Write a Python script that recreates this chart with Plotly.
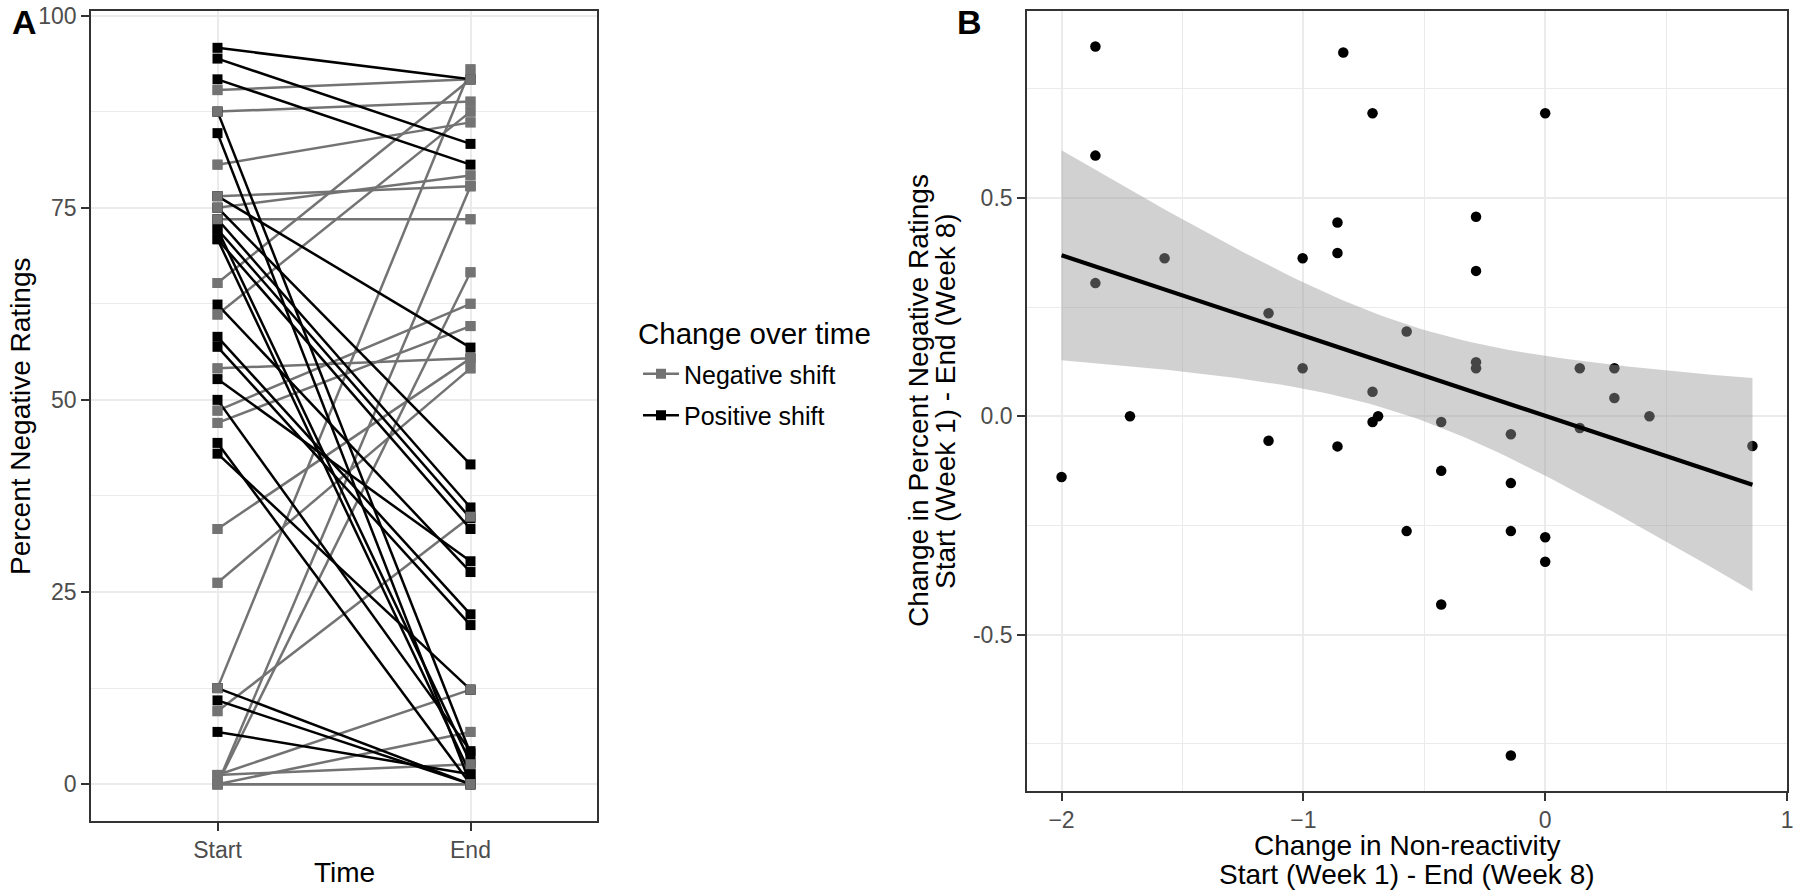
import numpy as np
import plotly.graph_objects as go

# ---------------- data ----------------
time_labels = ["Start", "End"]

# Panel A: Negative shift (percent negative ratings increased)
neg_start = [90.3, 87.5, 80.6, 75.0, 73.5, 76.5, 65.2, 61.1, 54.1, 48.6, 47.0,
             33.2, 26.2, 12.5, 9.5, 0.0, 0.0, 0.0, 0.0, 0.0, 1.2, 1.2]
neg_end = [91.7, 88.8, 86.1, 79.2, 73.5, 77.8, 91.7, 87.5, 55.4, 62.5, 59.6,
           55.4, 54.1, 93.0, 34.8, 77.8, 66.6, 6.8, 0.0, 0.0, 2.6, 12.3]

# Panel A: Positive shift (percent negative ratings decreased)
pos_start = [95.8, 94.4, 91.7, 87.5, 84.7, 76.5, 75.0, 73.5, 72.2, 70.9, 72.2,
             70.9, 62.4, 58.2, 56.9, 52.7, 50.0, 44.4, 43.0, 12.5, 10.9, 6.8]
pos_end = [91.7, 83.3, 80.6, 4.0, 0.0, 56.8, 41.6, 36.0, 34.6, 33.2, 2.8,
           1.3, 27.6, 22.1, 20.7, 29.0, 4.3, 0.0, 12.3, 0.0, 0.0, 1.3]

# Panel B: change in non-reactivity (x) vs change in percent negative ratings (y)
nonreact_change = [-1.860, -0.835, -0.714, -1.860, -0.859, -0.859, -1.574, -1.003,
                   -1.860, -1.144, -0.573, -1.003, -0.714, -1.717, -0.691, -0.714,
                   -1.144, -0.859, 0.000, -0.286, -0.286, -0.286, -0.286, 0.143,
                   0.286, 0.286, 0.431, -0.430, -0.142, 0.143, 0.857, -2.000,
                   -0.573, -0.430, -0.142, -0.142, 0.000, 0.000, -0.430, -0.142]
negrating_change = [0.847, 0.833, 0.694, 0.597, 0.444, 0.374, 0.362, 0.362,
                    0.305, 0.236, 0.194, 0.110, 0.056, 0.000, 0.000, -0.013,
                    -0.056, -0.069, 0.694, 0.457, 0.333, 0.124, 0.110, 0.110,
                    0.110, 0.042, 0.000, -0.013, -0.041, -0.027, -0.068, -0.139,
                    -0.263, -0.125, -0.153, -0.263, -0.277, -0.333, -0.431, -0.777]

# ---------------- styling ----------------
W, H = 1800, 895
FONT = "Liberation Sans, Arial, Helvetica, sans-serif"
GRAY = "#737373"
BLACK = "#000000"
GRID = "#EBEBEB"
BORDER = "#333333"
TICKTXT = "#4D4D4D"
TITLE_SIZE = 28
TICK_SIZE = 23


def px_x(v):
    return v / W


def px_y(v):
    return 1 - v / H


def segments(starts, ends):
    xs, ys = [], []
    for s, e in zip(starts, ends):
        xs += [time_labels[0], time_labels[1], None]
        ys += [s, e, None]
    return xs, ys


fig = go.Figure()

# ---- Panel A ----
gx, gy = segments(neg_start, neg_end)
bx, by = segments(pos_start, pos_end)

fig.add_trace(go.Scatter(
    x=gx, y=gy, mode="lines+markers", name="Negative shift",
    line=dict(color=GRAY, width=2.5),
    marker=dict(symbol="square", size=10, color=GRAY),
    xaxis="x", yaxis="y", legendgroup="neg", connectgaps=False))
fig.add_trace(go.Scatter(
    x=bx, y=by, mode="lines+markers", name="Positive shift",
    line=dict(color=BLACK, width=2.5),
    marker=dict(symbol="square", size=10, color=BLACK),
    xaxis="x", yaxis="y", legendgroup="pos", connectgaps=False))
# gray markers on top (as in the original drawing order)
fig.add_trace(go.Scatter(
    x=gx, y=gy, mode="markers", showlegend=False,
    marker=dict(symbol="square", size=10, color=GRAY),
    xaxis="x", yaxis="y", hoverinfo="skip"))

# ---- Panel B ----
xb = np.array(nonreact_change)
yb = np.array(negrating_change)
n = len(xb)
b1, b0 = np.polyfit(xb, yb, 1)
xs = np.linspace(xb.min(), xb.max(), 80)
yhat = b0 + b1 * xs
resid = yb - (b0 + b1 * xb)
s = np.sqrt(np.sum(resid ** 2) / (n - 2))
sxx = np.sum((xb - xb.mean()) ** 2)
se = s * np.sqrt(1.0 / n + (xs - xb.mean()) ** 2 / sxx)
tcrit = 2.024
upper = yhat + tcrit * se
lower = yhat - tcrit * se

fig.add_trace(go.Scatter(
    x=xb, y=yb, mode="markers", showlegend=False,
    marker=dict(color=BLACK, size=10.5),
    xaxis="x2", yaxis="y2"))
fig.add_trace(go.Scatter(
    x=xs, y=upper, mode="lines", line=dict(width=0, color="rgba(0,0,0,0)"),
    showlegend=False, xaxis="x2", yaxis="y2", hoverinfo="skip"))
fig.add_trace(go.Scatter(
    x=xs, y=lower, mode="lines", line=dict(width=0, color="rgba(0,0,0,0)"),
    fill="tonexty", fillcolor="rgba(153,153,153,0.45)",
    showlegend=False, xaxis="x2", yaxis="y2", hoverinfo="skip"))
fig.add_trace(go.Scatter(
    x=xs, y=yhat, mode="lines", line=dict(color=BLACK, width=4.2),
    showlegend=False, xaxis="x2", yaxis="y2"))


def expand(lo, hi, f=0.05):
    d = (hi - lo) * f
    return [lo - d, hi + d]


allA = neg_start + neg_end + pos_start + pos_end
yA_range = expand(min(allA), max(allA))
xB_range = expand(min(nonreact_change), max(nonreact_change))
yB_range = expand(min(negrating_change), max(negrating_change))

common_axis = dict(
    showline=True, mirror=True, linecolor=BORDER, linewidth=1.6,
    ticks="outside", ticklen=8, tickwidth=1.6, tickcolor=BORDER,
    tickfont=dict(family=FONT, size=TICK_SIZE, color=TICKTXT),
    showgrid=True, gridcolor=GRID, gridwidth=1.8, zeroline=False,
    automargin=False,
)

# Panel A plot area: x 91..597, y 11..821
# Panel B plot area: x 1027..1787, y 11..791
fig.update_layout(
    width=W, height=H, autosize=False,
    margin=dict(l=0, r=0, t=0, b=0, pad=0),
    paper_bgcolor="white", plot_bgcolor="white",
    font=dict(family=FONT, color="black"),
    xaxis=dict(common_axis, domain=[px_x(91), px_x(597)], anchor="y",
               type="category", categoryorder="array", categoryarray=time_labels,
               range=[-0.5, 1.5]),
    yaxis=dict(common_axis, domain=[px_y(821), px_y(11)], anchor="x",
               range=yA_range, tickvals=[0, 25, 50, 75, 100],
               minor=dict(dtick=12.5, tick0=0, showgrid=True, gridcolor=GRID, gridwidth=0.9)),
    xaxis2=dict(common_axis, domain=[px_x(1027), px_x(1787)], anchor="y2",
                range=xB_range, tickvals=[-2, -1, 0, 1],
                minor=dict(dtick=0.5, tick0=0, showgrid=True, gridcolor=GRID, gridwidth=0.9)),
    yaxis2=dict(common_axis, domain=[px_y(791), px_y(11)], anchor="x2",
                range=yB_range, tickvals=[-0.5, 0, 0.5], ticktext=["-0.5", "0.0", "0.5"],
                minor=dict(dtick=0.25, tick0=0, showgrid=True, gridcolor=GRID, gridwidth=0.9)),
    legend=dict(
        x=px_x(638), y=px_y(351), xanchor="left", yanchor="top",
        font=dict(family=FONT, size=25, color="black"),
        bgcolor="rgba(0,0,0,0)", traceorder="grouped", tracegroupgap=6,
        itemwidth=36,
    ),
    showlegend=True,
)

ann = []
# panel labels
ann.append(dict(text="<b>A</b>", x=px_x(10), y=px_y(22), xanchor="left", yanchor="middle",
                font=dict(family=FONT, size=34, color="black")))
ann.append(dict(text="<b>B</b>", x=px_x(955), y=px_y(22), xanchor="left", yanchor="middle",
                font=dict(family=FONT, size=34, color="black")))
# legend title
ann.append(dict(text="Change over time", x=px_x(636), y=px_y(333), xanchor="left", yanchor="middle",
                font=dict(family=FONT, size=29.5, color="black")))
# Panel A titles
ann.append(dict(text="Percent Negative Ratings", x=px_x(21), y=px_y(416), textangle=-90,
                xanchor="center", yanchor="middle", font=dict(family=FONT, size=TITLE_SIZE, color="black")))
ann.append(dict(text="Time", x=px_x(344), y=px_y(872), xanchor="center", yanchor="middle",
                font=dict(family=FONT, size=TITLE_SIZE, color="black")))
# Panel B titles
ann.append(dict(text="Change in Non-reactivity", x=px_x(1407), y=px_y(845),
                xanchor="center", yanchor="middle", font=dict(family=FONT, size=TITLE_SIZE, color="black")))
ann.append(dict(text="Start (Week 1) - End (Week 8)", x=px_x(1407), y=px_y(874),
                xanchor="center", yanchor="middle", font=dict(family=FONT, size=TITLE_SIZE, color="black")))
ann.append(dict(text="Change in Percent Negative Ratings", x=px_x(918), y=px_y(401), textangle=-90,
                xanchor="center", yanchor="middle", font=dict(family=FONT, size=TITLE_SIZE, color="black")))
ann.append(dict(text="Start (Week 1) - End (Week 8)", x=px_x(945), y=px_y(401), textangle=-90,
                xanchor="center", yanchor="middle", font=dict(family=FONT, size=TITLE_SIZE, color="black")))
for a in ann:
    a.update(xref="paper", yref="paper", showarrow=False)
fig.update_layout(annotations=ann)

fig.write_html(
    "out.html",
    config={"displayModeBar": False, "responsive": False},
    post_script="document.body.style.margin='0px';document.body.style.padding='0px';"
                "document.body.style.overflow='hidden';",
)
